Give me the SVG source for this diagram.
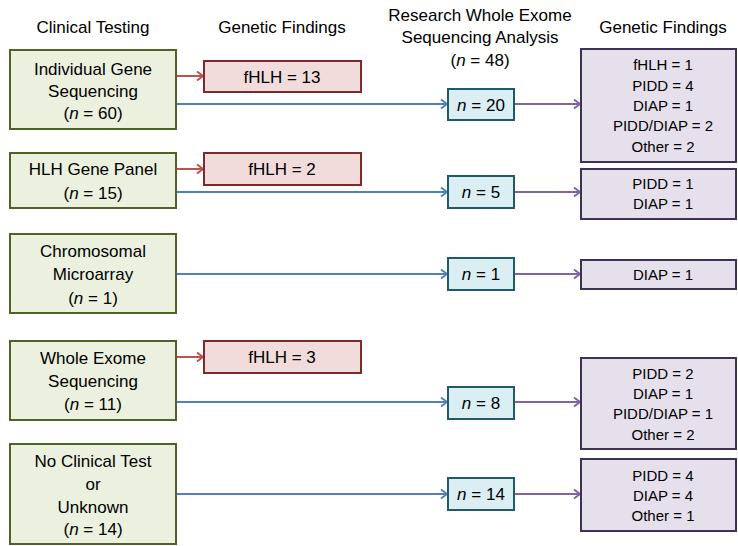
<svg xmlns="http://www.w3.org/2000/svg" width="738" height="546" viewBox="0 0 738 546">
<defs>
<style>
text{font-family:"Liberation Sans",Arial,sans-serif;fill:#000;text-anchor:middle}
.h{font-size:17px}
.t{font-size:17px}
.s{font-size:15px}
.g{fill:#ebf1de;stroke:#4f6228;stroke-width:2}
.r{fill:#f2dcdb;stroke:#7b2c2a;stroke-width:2}
.c{fill:#dbeef4;stroke:#215967;stroke-width:2}
.p{fill:#e6e0ec;stroke:#3f3151;stroke-width:2}
.lr{stroke:#c0504d;stroke-width:2;fill:none}
.lb{stroke:#4f81bd;stroke-width:2;fill:none}
.lp{stroke:#8064a2;stroke-width:2;fill:none}
</style>
<marker id="ar" markerUnits="userSpaceOnUse" markerWidth="12" markerHeight="12" refX="9" refY="6" orient="auto"><path d="M3,1.5 L9,6 L3,10.5" fill="none" stroke="#c0504d" stroke-width="2"/></marker>
<marker id="ab" markerUnits="userSpaceOnUse" markerWidth="12" markerHeight="12" refX="9" refY="6" orient="auto"><path d="M3,1.5 L9,6 L3,10.5" fill="none" stroke="#4f81bd" stroke-width="2"/></marker>
<marker id="ap" markerUnits="userSpaceOnUse" markerWidth="12" markerHeight="12" refX="9" refY="6" orient="auto"><path d="M3,1.5 L9,6 L3,10.5" fill="none" stroke="#8064a2" stroke-width="2"/></marker>
</defs>
<g id="headers">
<text class="h" x="93" y="33">Clinical Testing</text>
<text class="h" x="282" y="33">Genetic Findings</text>
<text class="h" x="480" y="21">Research Whole Exome</text>
<text class="h" x="480" y="43">Sequencing Analysis</text>
<text class="h" x="480" y="66">(<tspan font-style="italic">n</tspan> = 48)</text>
<text class="h" x="663" y="33">Genetic Findings</text>
</g>
<g id="connectors">
<line class="lr" x1="177" y1="76" x2="203" y2="76" marker-end="url(#ar)"/>
<line class="lr" x1="177" y1="169" x2="203" y2="169" marker-end="url(#ar)"/>
<line class="lr" x1="177" y1="357" x2="203" y2="357" marker-end="url(#ar)"/>
<line class="lb" x1="177" y1="104" x2="447" y2="104" marker-end="url(#ab)"/>
<line class="lb" x1="177" y1="192" x2="447" y2="192" marker-end="url(#ab)"/>
<line class="lb" x1="177" y1="274" x2="447" y2="274" marker-end="url(#ab)"/>
<line class="lb" x1="177" y1="402" x2="447" y2="402" marker-end="url(#ab)"/>
<line class="lb" x1="177" y1="494" x2="447" y2="494" marker-end="url(#ab)"/>
<line class="lp" x1="515" y1="104" x2="580" y2="104" marker-end="url(#ap)"/>
<line class="lp" x1="515" y1="192" x2="580" y2="192" marker-end="url(#ap)"/>
<line class="lp" x1="515" y1="274" x2="580" y2="274" marker-end="url(#ap)"/>
<line class="lp" x1="515" y1="402" x2="580" y2="402" marker-end="url(#ap)"/>
<line class="lp" x1="515" y1="494" x2="580" y2="494" marker-end="url(#ap)"/>
</g>
<g id="clin1"><rect class="g" x="10" y="50" width="166" height="79"/>
<text class="t" x="93" y="75">Individual Gene</text><text class="t" x="93" y="97">Sequencing</text><text class="t" x="93" y="119">(<tspan font-style="italic">n</tspan> = 60)</text></g>
<g id="clin2"><rect class="g" x="10" y="153" width="166" height="55"/>
<text class="t" x="93" y="175">HLH Gene Panel</text><text class="t" x="93" y="199">(<tspan font-style="italic">n</tspan> = 15)</text></g>
<g id="clin3"><rect class="g" x="10" y="234" width="166" height="79"/>
<text class="t" x="93" y="257">Chromosomal</text><text class="t" x="93" y="280">Microarray</text><text class="t" x="93" y="304">(<tspan font-style="italic">n</tspan> = 1)</text></g>
<g id="clin4"><rect class="g" x="10" y="341" width="166" height="79"/>
<text class="t" x="93" y="364">Whole Exome</text><text class="t" x="93" y="387">Sequencing</text><text class="t" x="93" y="410">(<tspan font-style="italic">n</tspan> = 11)</text></g>
<g id="clin5"><rect class="g" x="10" y="444" width="166" height="100"/>
<text class="t" x="93" y="467">No Clinical Test</text><text class="t" x="93" y="490">or</text><text class="t" x="93" y="513">Unknown</text><text class="t" x="93" y="535">(<tspan font-style="italic">n</tspan> = 14)</text></g>
<g id="gf1"><rect class="r" x="204" y="61" width="157" height="31"/><text class="t" x="282" y="83">fHLH = 13</text></g>
<g id="gf2"><rect class="r" x="204" y="153" width="157" height="32"/><text class="t" x="282" y="175">fHLH = 2</text></g>
<g id="gf3"><rect class="r" x="204" y="341" width="157" height="32"/><text class="t" x="282" y="363">fHLH = 3</text></g>
<g id="wes1"><rect class="c" x="448" y="89" width="66" height="31"/><text class="t" x="481" y="111"><tspan font-style="italic">n</tspan> = 20</text></g>
<g id="wes2"><rect class="c" x="448" y="176" width="66" height="32"/><text class="t" x="481" y="198"><tspan font-style="italic">n</tspan> = 5</text></g>
<g id="wes3"><rect class="c" x="448" y="258" width="66" height="32"/><text class="t" x="481" y="280"><tspan font-style="italic">n</tspan> = 1</text></g>
<g id="wes4"><rect class="c" x="448" y="387" width="66" height="32"/><text class="t" x="481" y="409"><tspan font-style="italic">n</tspan> = 8</text></g>
<g id="wes5"><rect class="c" x="448" y="478" width="66" height="32"/><text class="t" x="481" y="500"><tspan font-style="italic">n</tspan> = 14</text></g>
<g id="res1"><rect class="p" x="581" y="49" width="155" height="113"/>
<text class="s" x="663" y="70">fHLH = 1</text><text class="s" x="663" y="91">PIDD = 4</text><text class="s" x="663" y="111">DIAP = 1</text><text class="s" x="663" y="131">PIDD/DIAP = 2</text><text class="s" x="663" y="152">Other = 2</text></g>
<g id="res2"><rect class="p" x="581" y="169" width="155" height="50"/>
<text class="s" x="663" y="189">PIDD = 1</text><text class="s" x="663" y="209">DIAP = 1</text></g>
<g id="res3"><rect class="p" x="581" y="260" width="155" height="29"/>
<text class="s" x="663" y="280">DIAP = 1</text></g>
<g id="res4"><rect class="p" x="581" y="358" width="155" height="91"/>
<text class="s" x="663" y="379">PIDD = 2</text><text class="s" x="663" y="399">DIAP = 1</text><text class="s" x="663" y="419">PIDD/DIAP = 1</text><text class="s" x="663" y="440">Other = 2</text></g>
<g id="res5"><rect class="p" x="581" y="459" width="155" height="72"/>
<text class="s" x="663" y="481">PIDD = 4</text><text class="s" x="663" y="501">DIAP = 4</text><text class="s" x="663" y="521">Other = 1</text></g>
</svg>
